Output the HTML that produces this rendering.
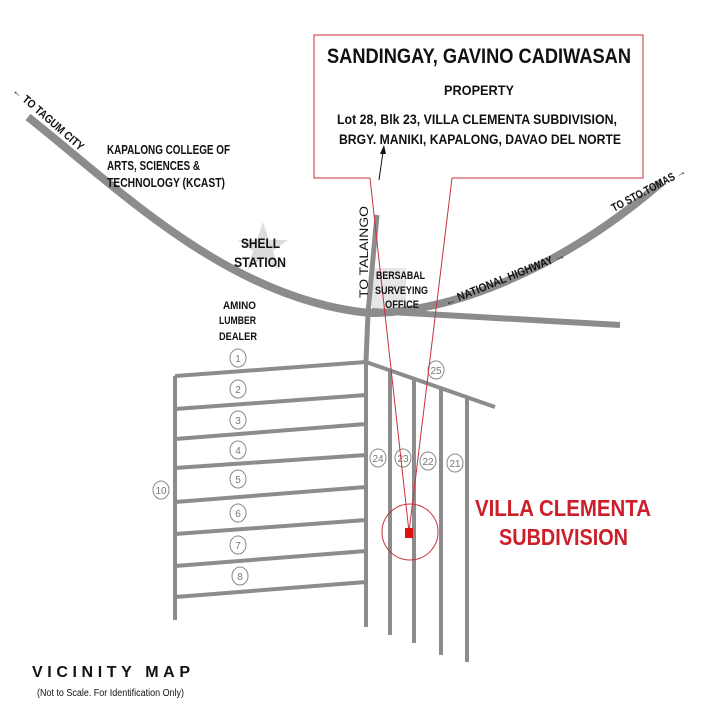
<!DOCTYPE html>
<html><head><meta charset="utf-8"><style>
html,body{margin:0;padding:0;background:#fff;}
svg{display:block;}
text{font-family:"Liberation Sans",sans-serif;}
</style></head><body>
<svg width="720" height="720" viewBox="0 0 720 720" xmlns="http://www.w3.org/2000/svg">
<rect width="720" height="720" fill="#fff"/>
<polygon points="263,222 269,240 288,240 273,251 279,270 263,258 247,270 253,251 238,240 257,240" fill="#dcdcdc"/>
<rect x="372" y="268" width="34" height="40" fill="#e6e6e6"/>
<g stroke="#8c8c8c" fill="none" stroke-linecap="butt">
<path d="M28,117 C120,190 230,300 370,313 C450,313 560,270 662,182" stroke-width="8"/>
<path d="M372,311 L620,325" stroke-width="6"/>
<path d="M377,215 L368,313 L366,362" stroke-width="5"/>
<g stroke-width="4">
<line x1="175" y1="376" x2="175" y2="620"/>
<line x1="366" y1="362" x2="366" y2="627"/>
<line x1="366" y1="362" x2="495" y2="407"/>
<line x1="390" y1="370" x2="390" y2="635"/>
<line x1="414" y1="379" x2="414" y2="643"/>
<line x1="441" y1="388" x2="441" y2="655"/>
<line x1="467" y1="397" x2="467" y2="662"/>
<line x1="175" y1="376" x2="366" y2="362"/>
<line x1="175" y1="409" x2="366" y2="395"/>
<line x1="175" y1="439" x2="366" y2="424"/>
<line x1="175" y1="468" x2="366" y2="455"/>
<line x1="175" y1="502" x2="366" y2="487"/>
<line x1="175" y1="534" x2="366" y2="520"/>
<line x1="175" y1="566" x2="366" y2="551"/>
<line x1="175" y1="597" x2="366" y2="582"/>
</g>
</g>
<g fill="#fff" stroke="#888" stroke-width="1">
<ellipse cx="238" cy="358" rx="8" ry="9"/><ellipse cx="238" cy="389" rx="8" ry="9"/>
<ellipse cx="238" cy="420" rx="8" ry="9"/><ellipse cx="238" cy="450" rx="8" ry="9"/>
<ellipse cx="238" cy="479" rx="8" ry="9"/><ellipse cx="238" cy="513" rx="8" ry="9"/>
<ellipse cx="238" cy="545" rx="8" ry="9"/><ellipse cx="240" cy="576" rx="8" ry="9"/>
<ellipse cx="161" cy="490" rx="8" ry="9"/><ellipse cx="436" cy="370" rx="8" ry="9"/>
<ellipse cx="378" cy="458" rx="8" ry="9"/><ellipse cx="403" cy="458" rx="8" ry="9"/>
<ellipse cx="428" cy="461" rx="8" ry="9"/><ellipse cx="455" cy="463" rx="8" ry="9"/>
</g>
<g font-size="10" fill="#777" text-anchor="middle">
<text x="238" y="362">1</text><text x="238" y="393">2</text><text x="238" y="424">3</text>
<text x="238" y="454">4</text><text x="238" y="483">5</text><text x="238" y="517">6</text>
<text x="238" y="549">7</text><text x="240" y="580">8</text><text x="161" y="494">10</text>
<text x="436" y="374">25</text><text x="378" y="462">24</text><text x="403" y="462">23</text>
<text x="428" y="465">22</text><text x="455" y="467">21</text>
</g>
<g stroke="#c8323c" stroke-width="1" fill="none">
<polyline points="370,178 314,178 314,35 643,35 643,178 452,178"/>
<line x1="370" y1="178" x2="409" y2="532"/>
<line x1="452" y1="178" x2="409" y2="532"/>
<circle cx="410" cy="532" r="28"/>
</g>
<rect x="405" y="528" width="8" height="10" fill="#e01010"/>
<line x1="379" y1="180" x2="383" y2="152" stroke="#111" stroke-width="1"/>
<polygon points="384,145 380,154 386,154" fill="#111"/>
<text x="327" y="63" font-size="21" font-weight="bold" textLength="304" lengthAdjust="spacingAndGlyphs" fill="#111">SANDINGAY, GAVINO CADIWASAN</text>
<text x="479" y="95" font-size="14" font-weight="bold" text-anchor="middle" textLength="70" lengthAdjust="spacingAndGlyphs" fill="#111">PROPERTY</text>
<text x="337" y="124" font-size="13.5" font-weight="bold" textLength="280" lengthAdjust="spacingAndGlyphs" fill="#111">Lot 28, Blk 23, VILLA CLEMENTA SUBDIVISION,</text>
<text x="339" y="144" font-size="13.5" font-weight="bold" textLength="282" lengthAdjust="spacingAndGlyphs" fill="#111">BRGY. MANIKI, KAPALONG, DAVAO DEL NORTE</text>
<g fill="#111" font-size="12.5" font-weight="bold">
<text x="107" y="154" textLength="123" lengthAdjust="spacingAndGlyphs">KAPALONG COLLEGE OF</text>
<text x="107" y="170" textLength="93" lengthAdjust="spacingAndGlyphs">ARTS, SCIENCES &amp;</text>
<text x="107" y="187" textLength="118" lengthAdjust="spacingAndGlyphs">TECHNOLOGY (KCAST)</text>
</g>
<g fill="#111" font-size="14" font-weight="bold">
<text x="241" y="248" textLength="39" lengthAdjust="spacingAndGlyphs">SHELL</text>
<text x="234" y="267" textLength="52" lengthAdjust="spacingAndGlyphs">STATION</text>
</g>
<g fill="#111" font-size="11" font-weight="bold">
<text x="223" y="309" textLength="33" lengthAdjust="spacingAndGlyphs">AMINO</text>
<text x="219" y="324" textLength="37" lengthAdjust="spacingAndGlyphs">LUMBER</text>
<text x="219" y="340" textLength="38" lengthAdjust="spacingAndGlyphs">DEALER</text>
<text x="376" y="279" textLength="49" lengthAdjust="spacingAndGlyphs">BERSABAL</text>
<text x="375" y="294" textLength="53" lengthAdjust="spacingAndGlyphs">SURVEYING</text>
<text x="385" y="308" textLength="34" lengthAdjust="spacingAndGlyphs">OFFICE</text>
</g>
<g fill="#111" font-size="11.5" font-weight="bold">
<text transform="translate(12,92) rotate(41)" textLength="90" lengthAdjust="spacingAndGlyphs">← TO TAGUM CITY</text>
<text transform="translate(368,298) rotate(-90)" textLength="92" lengthAdjust="spacingAndGlyphs" font-weight="normal">TO  TALAINGO</text>
<text transform="translate(447,306) rotate(-22)" textLength="128" lengthAdjust="spacingAndGlyphs">← NATIONAL HIGHWAY →</text>
<text transform="translate(614,212) rotate(-28)" textLength="82" lengthAdjust="spacingAndGlyphs">TO STO.TOMAS →</text>
</g>
<g fill="#cc1f2a" font-size="23" font-weight="bold">
<text x="475" y="516" textLength="176" lengthAdjust="spacingAndGlyphs">VILLA CLEMENTA</text>
<text x="499" y="545" textLength="129" lengthAdjust="spacingAndGlyphs">SUBDIVISION</text>
</g>
<text x="32" y="677" font-size="16" font-weight="bold" fill="#111" textLength="158" lengthAdjust="spacing">VICINITY MAP</text>
<text x="37" y="696" font-size="10" fill="#111" textLength="147" lengthAdjust="spacingAndGlyphs">(Not to Scale. For Identification Only)</text>
</svg>
</body></html>
